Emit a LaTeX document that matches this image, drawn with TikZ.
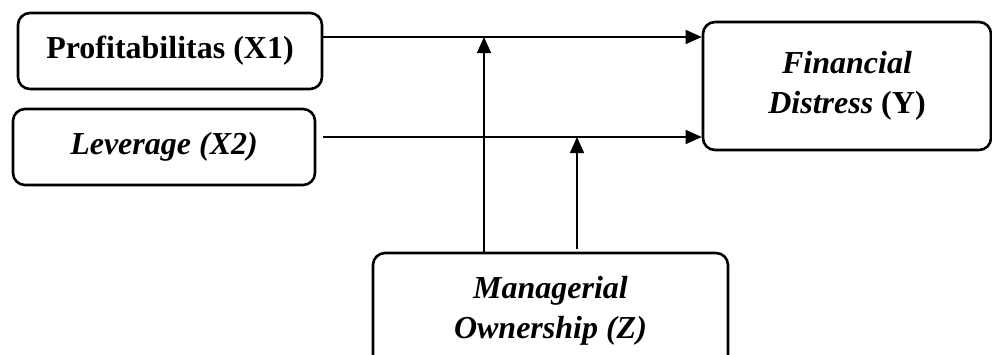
\documentclass[tikz,border=0pt]{standalone}
\usepackage{fontspec}
\setmainfont{Liberation Serif}
\usetikzlibrary{arrows.meta}

\begin{document}
\begin{tikzpicture}[x=0.5pt,y=-0.5pt,
	box/.style={draw, line width=1.3pt, rounded corners=6pt, align=center,
		font=\fontsize{16}{20}\selectfont\bfseries, inner sep=0pt},
	link/.style={line width=0.75pt, -{Triangle[length=8pt,width=7pt]}}]
	\useasboundingbox (0,0) rectangle (992,354);

	%variables and moderator
	\node[box, minimum width=152pt, minimum height=38pt] (prof) at (170,51) {Profitabilitas (X1)};
	\node[box, minimum width=151pt, minimum height=38pt] (lev) at (164,147) {\textit{Leverage (X2)}};
	\node[box, minimum width=144pt, minimum height=64pt] (fin) at (847,86) {\textit{Financial}\\\textit{Distress} (Y)};
	\node[box, minimum width=177.5pt, minimum height=57.5pt] (mgr) at (550.5,310.5) {\textit{Managerial}\\\textit{Ownership (Z)}};

	%rows of the arrows
	\coordinate (r1) at (0,37);
	\coordinate (s2) at (323,137);
	\coordinate (m1) at (484,0);
	\coordinate (m2) at (577,249);

	%direct effects
	\draw[link] (prof.east |- r1) -- (fin.west |- r1);
	\draw[link] (s2) -- (fin.west |- s2);

	%moderation
	\draw[link] (mgr.north -| m1) -- (m1 |- r1);
	\draw[link] (m2) -- (m2 |- s2);

\end{tikzpicture}
\end{document}
